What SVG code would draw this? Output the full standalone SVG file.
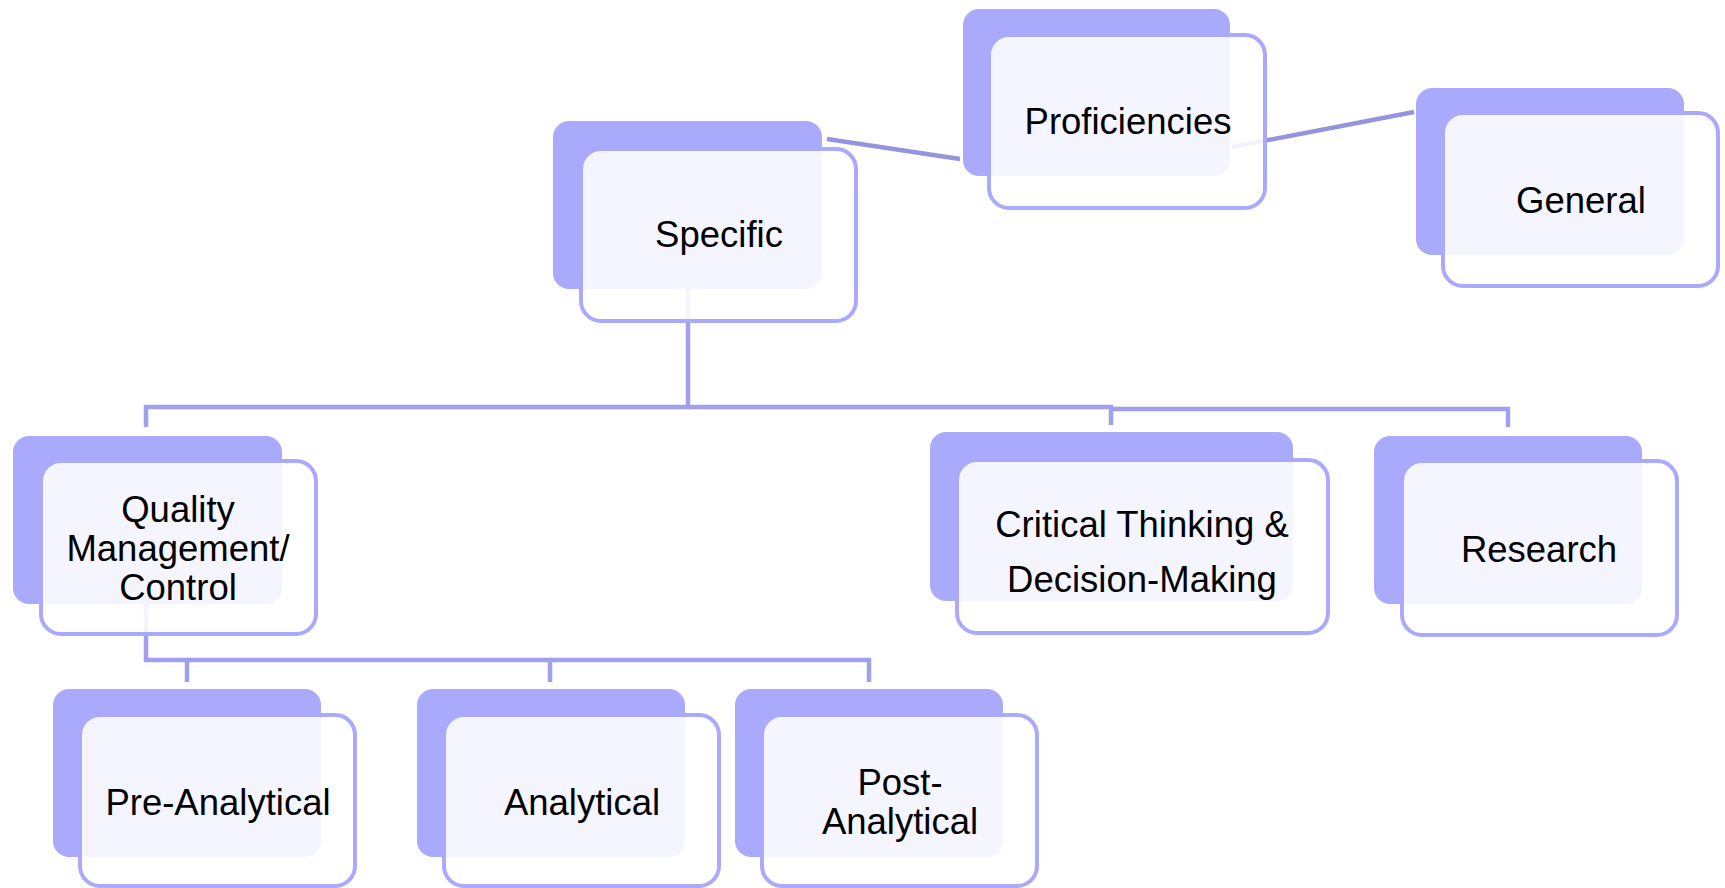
<svg xmlns="http://www.w3.org/2000/svg" width="1725" height="888" viewBox="0 0 1725 888">
<style>
.bk{fill:#aaaafc}
.fr{fill:#ffffff;fill-opacity:0.88;stroke:#aaaafc;stroke-width:4}
.ln{fill:none;stroke:#a0a0ee;stroke-width:4.5;stroke-linejoin:miter}
.dk{fill:none;stroke:#9494dc;stroke-width:4.5}
text{font-family:"Liberation Sans",Arial,sans-serif;font-size:36.5px;fill:#000;text-anchor:middle}
</style>
<rect width="1725" height="888" fill="#ffffff"/>
<g id="connectors">
<line class="dk" x1="827" y1="139" x2="960" y2="159"/>
<line class="dk" x1="1232" y1="147" x2="1414" y2="112"/>
<path class="ln" d="M688,289 V407 H146 V427"/>
<path class="ln" d="M688,407 H1111 V425"/>
<path class="ln" d="M1111,409 H1508 V427"/>
<path class="ln" d="M146,604 V660 H187 V682"/>
<path class="ln" d="M187,660 H550 V682"/>
<path class="ln" d="M550,660 H869 V682"/>
</g>
<g id="proficiencies">
<rect class="bk" x="963" y="9" width="267" height="167" rx="16"/>
<rect class="fr" x="989" y="35" width="276" height="173" rx="20"/>
<text x="1128" y="134">Proficiencies</text>
</g>
<g id="specific">
<rect class="bk" x="553" y="121" width="269" height="168" rx="16"/>
<rect class="fr" x="581" y="149" width="275" height="172" rx="20"/>
<text x="719" y="247">Specific</text>
</g>
<g id="general">
<rect class="bk" x="1416" y="88" width="268" height="167" rx="16"/>
<rect class="fr" x="1443" y="113" width="275" height="173" rx="20"/>
<text x="1581" y="213">General</text>
</g>
<g id="quality">
<rect class="bk" x="13" y="436" width="269" height="168" rx="16"/>
<rect class="fr" x="41" y="461" width="275" height="173" rx="20"/>
<text x="178" y="522">Quality</text>
<text x="178" y="561">Management/</text>
<text x="178" y="600">Control</text>
</g>
<g id="critical">
<rect class="bk" x="930" y="432" width="363" height="169" rx="16"/>
<rect class="fr" x="957" y="460" width="371" height="173" rx="20"/>
<text x="1142" y="537">Critical Thinking &amp;</text>
<text x="1142" y="592">Decision-Making</text>
</g>
<g id="research">
<rect class="bk" x="1374" y="436" width="268" height="168" rx="16"/>
<rect class="fr" x="1402" y="461" width="275" height="174" rx="20"/>
<text x="1539" y="562">Research</text>
</g>
<g id="preanalytical">
<rect class="bk" x="53" y="689" width="268" height="168" rx="16"/>
<rect class="fr" x="80" y="715" width="275" height="171" rx="20"/>
<text x="218" y="815">Pre-Analytical</text>
</g>
<g id="analytical">
<rect class="bk" x="417" y="689" width="268" height="168" rx="16"/>
<rect class="fr" x="444" y="715" width="275" height="171" rx="20"/>
<text x="582" y="815">Analytical</text>
</g>
<g id="postanalytical">
<rect class="bk" x="735" y="689" width="268" height="168" rx="16"/>
<rect class="fr" x="762" y="715" width="275" height="171" rx="20"/>
<text x="900" y="795">Post-</text>
<text x="900" y="834">Analytical</text>
</g>
</svg>
